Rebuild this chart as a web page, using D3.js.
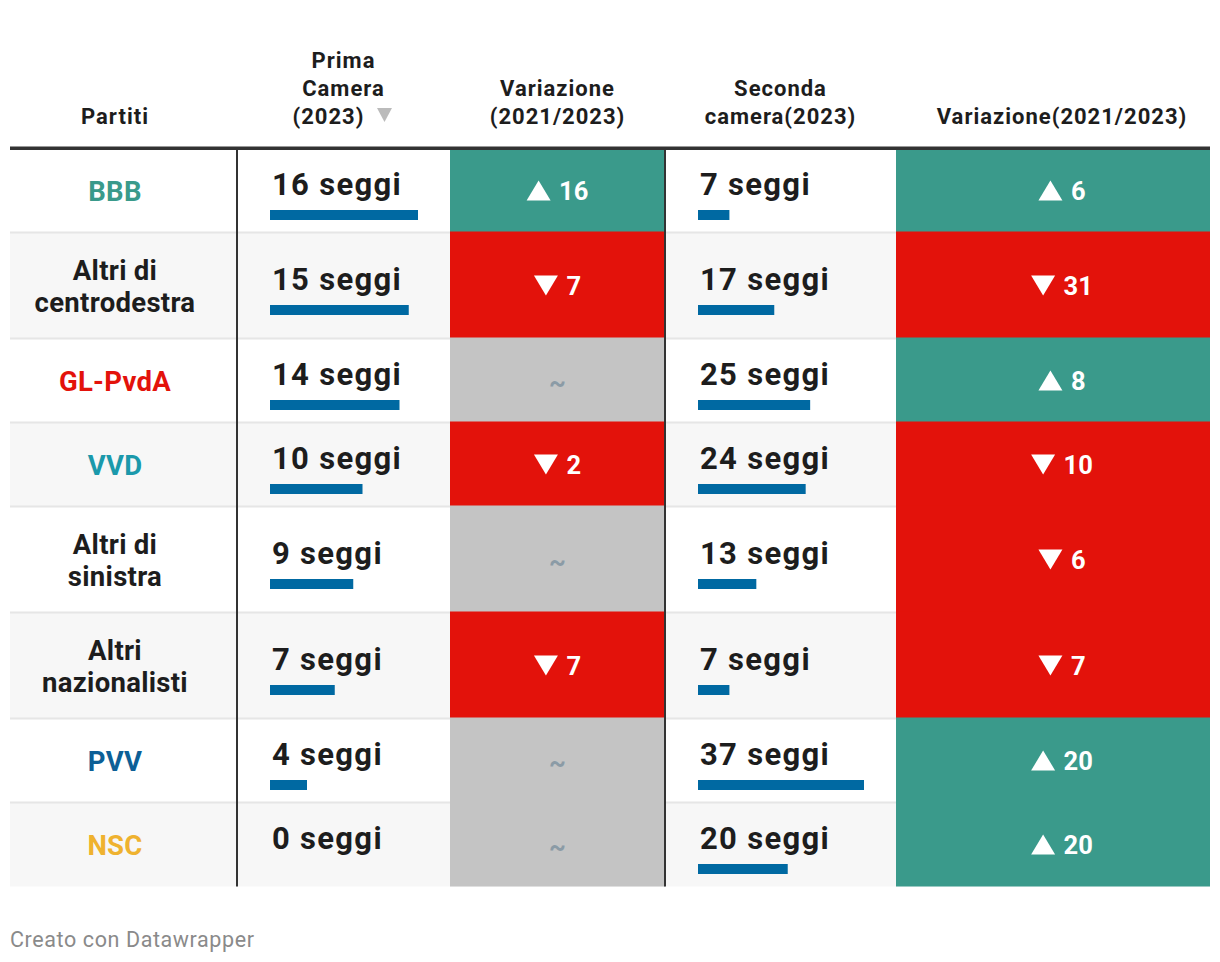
<!DOCTYPE html>
<html><head><meta charset="utf-8">
<script src="https://cdn.jsdelivr.net/npm/d3@7"></script>
<style>
html,body{margin:0;padding:0;background:#fff;}
svg{display:block;font-family:Roboto, sans-serif;}
</style></head>
<body><svg id="c" width="1220" height="962"></svg>
<script>
// ---- data ----
const parties = ["BBB","Altri di centrodestra","GL-PvdA","VVD","Altri di sinistra","Altri nazionalisti","PVV","NSC"];
const partyLines = [["BBB"],["Altri di","centrodestra"],["GL-PvdA"],["VVD"],["Altri di","sinistra"],["Altri","nazionalisti"],["PVV"],["NSC"]];
const partyColors = ["#3a9a8b","#1d1d1d","#e3120b","#1b99ab","#1d1d1d","#1d1d1d","#0c5f96","#efb22f"];
const primaCamera = [16,15,14,10,9,7,4,0];
const primaChange = [16,-7,null,-2,null,-7,null,null];
const secondaCamera = [7,17,25,24,13,7,37,20];
const secondaChange = [6,-31,8,-10,-6,-7,20,20];
const headers = [["Partiti"],["Prima","Camera","(2023)"],["Variazione","(2021/2023)"],["Seconda","camera(2023)"],["Variazione(2021/2023)"]];
const footer = "Creato con Datawrapper";

// ---- layout ----
const svg = d3.select("#c");
const colX = [10,237,450,665,896,1210];
const colCenter = [115,343.5,557.5,780.5,1062];
const headerLineY = 148;
const rowH = partyLines.map(l => l.length > 1 ? 106 : 84);
const rowTop = []; {let y = 148.5; rowH.forEach(h => {rowTop.push(y); y += h;});}
const tableBottom = rowTop[rowTop.length-1] + rowH[rowH.length-1];
const GREEN = "#3a9a8b", RED = "#e3120b", GREY = "#c4c4c4", BAR = "#0069a2", TXT = "#1d1d1d";

// row backgrounds
parties.forEach((p,i) => {
  svg.append("rect").attr("x",colX[0]).attr("y",rowTop[i]).attr("width",colX[5]-colX[0]).attr("height",rowH[i])
    .attr("fill", i%2 ? "#f7f7f7" : "#ffffff");
  if (i>0) svg.append("rect").attr("x",colX[0]).attr("y",rowTop[i]-1).attr("width",colX[5]-colX[0]).attr("height",2).attr("fill","#e6e6e6");
});

// change cells
function changeCell(col, vals) {
  vals.forEach((v,i) => {
    const fill = v == null ? GREY : (v > 0 ? GREEN : RED);
    svg.append("rect").attr("x",colX[col]).attr("y",rowTop[i]-(i>0?1:0)).attr("width",colX[col+1]-colX[col]).attr("height",rowH[i]+(i>0?1:0)+(i<vals.length-1?1:0)).attr("fill",fill);
    const cy = rowTop[i] + rowH[i]/2;
    if (v == null) {
      svg.append("text").attr("x",colCenter[col]).attr("y",cy+11).attr("text-anchor","middle")
        .attr("font-size",26).attr("font-weight",700).attr("fill","#8b9ba6").text("~");
    } else {
      const g = svg.append("g");
      const t = g.append("text").attr("y",cy+9.3).attr("font-size",25.5).attr("font-weight",700).attr("fill","#fff").text(Math.abs(v));
      const tw = t.node().getComputedTextLength();
      const triW = 24, gap = 8.5, total = triW + gap + tw;
      const x0 = colCenter[col] - total/2;
      t.attr("x", x0 + triW + gap);
      const up = v > 0;
      const th = 20, ty = cy - th/2;
      g.append("path").attr("fill","#fff").attr("d", up
        ? d3.line()([[x0,ty+th],[x0+triW/2,ty],[x0+triW,ty+th]]) + "Z"
        : d3.line()([[x0,ty],[x0+triW,ty],[x0+triW/2,ty+th]]) + "Z");
    }
  });
}
changeCell(2, primaChange);
changeCell(4, secondaChange);

// vertical dividers
[colX[1], colX[3]].forEach(x => svg.append("rect").attr("x",x-1).attr("y",headerLineY).attr("width",2).attr("height",tableBottom-headerLineY).attr("fill","#333"));

// header line
svg.append("rect").attr("x",colX[0]).attr("y",146.5).attr("width",colX[5]-colX[0]).attr("height",3.5).attr("fill","#333");

// headers
const headerBase = 123.5, headerLH = 28;
headers.forEach((lines,c) => {
  const t = svg.append("text").attr("text-anchor","middle").attr("font-size",22).attr("font-weight",700)
    .attr("letter-spacing",1).attr("fill",TXT);
  lines.forEach((l,k) => {
    t.append("tspan").attr("x", colCenter[c] - (c===1 && k===lines.length-1 ? 15 : 0))
      .attr("y", headerBase - (lines.length-1-k)*headerLH).text(l);
  });
});
// sort indicator in header of column 2
{
  const x0 = 377, y0 = 108;
  svg.append("path").attr("fill","#bbbbbb").attr("d", d3.line()([[x0,y0],[x0+15,y0],[x0+7.5,y0+14]])+"Z");
}

// party names
partyLines.forEach((lines,i) => {
  const cy = rowTop[i] + rowH[i]/2;
  const lh = 31.4;
  const t = svg.append("text").attr("text-anchor","middle").attr("font-size",27.5).attr("font-weight",700)
    .attr("letter-spacing",0.3).attr("fill",partyColors[i]);
  lines.forEach((l,k) => {
    t.append("tspan").attr("x",colCenter[0]).attr("y", cy + 10.5 - (lines.length-1)*lh/2 + k*lh).text(l);
  });
});

// value columns with bars
function valueCol(col, vals) {
  const x0 = colX[col] + 33;
  const w = (colX[col+1]-colX[col]) - 65;
  const sc = d3.scaleLinear().domain([0, d3.max(vals)]).range([0, w]);
  vals.forEach((v,i) => {
    const cy = rowTop[i] + rowH[i]/2;
    svg.append("text").attr("x",x0+2).attr("y",cy+4).attr("font-size",31).attr("font-weight",700)
      .attr("letter-spacing",1.3).attr("fill",TXT).text(v + " seggi");
    svg.append("rect").attr("x",x0).attr("y",cy+19.5).attr("width",sc(v)).attr("height",10).attr("fill",BAR);
  });
}
valueCol(1, primaCamera);
valueCol(3, secondaCamera);

// footer
svg.append("text").attr("x",10).attr("y",946.5).attr("font-size",21.5).attr("letter-spacing",0.6).attr("fill","#8a8a8a").text(footer);
</script></body></html>
